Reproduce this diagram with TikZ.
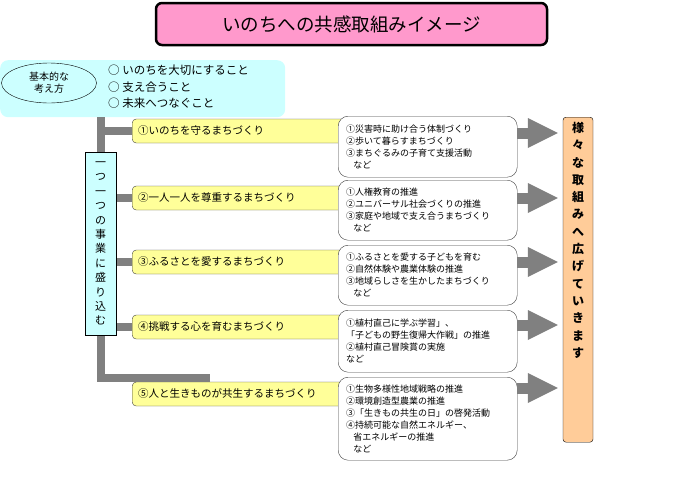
\documentclass[tikz,border=0pt]{standalone}
\usepackage{fontspec}
\setmainfont{Noto Sans CJK JP}
\usetikzlibrary{arrows.meta,shapes.geometric}
\definecolor{Pink}{RGB}{255,153,204}
\definecolor{Aqua}{RGB}{204,255,255}
\definecolor{Lemon}{RGB}{255,255,153}
\definecolor{Peach}{RGB}{255,204,153}
\definecolor{Stem}{RGB}{128,128,128}
\definecolor{Edge}{RGB}{64,64,64}

\begin{document}
\begin{tikzpicture}[x=1pt,y=-1pt,
  br/.style={draw=Stem,line width=8pt},
  ar/.style={draw=Stem,line width=11pt,-{Triangle[length=30pt,width=30pt,line width=0pt]},shorten >=5pt},
  yb/.style={draw=Edge,fill=Lemon,rounded corners=4pt,anchor=west,minimum height=24pt,text width=201pt,inner xsep=6pt,align=left,font=\fontsize{10.5}{12}\selectfont},
  wb/.style={draw=Edge,fill=white,rounded corners=10pt,anchor=north west,text width=163pt,inner xsep=8pt,align=left,font=\fontsize{9}{12}\selectfont}]
\useasboundingbox (0,0) rectangle (690,477);
% basic idea
\node[fill=Aqua,rounded corners=8pt,minimum width=285pt,minimum height=57pt,anchor=north west] (bg) at (0,60) {};
\node[ellipse,draw=black,minimum width=95pt,minimum height=40pt,inner sep=0pt,align=center,font=\fontsize{10}{12}\selectfont] (e) at (49,83) {基本的な\\考え方};
\node[anchor=west,align=left,inner sep=0pt,font=\fontsize{11.5}{16.5}\selectfont] (l) at (108,87) {○ いのちを大切にすること\\○ 支え合うこと\\○ 未来へつなぐこと};
\node[draw=black,line width=2.5pt,fill=Pink,rounded corners=6pt,minimum width=391pt,minimum height=42pt,font=\fontsize{18.5}{20}\selectfont] (t) at (351.5,24) {いのちへの共感取組みイメージ};
% five themes
\node[yb] (y1) at (132,131) {①いのちを守るまちづくり};
\node[yb] (y2) at (132,198) {②一人一人を尊重するまちづくり};
\node[yb] (y3) at (132,262) {③ふるさとを愛するまちづくり};
\node[yb] (y4) at (132,327) {④挑戦する心を育むまちづくり};
\node[yb] (y5) at (132,394) {⑤人と生きものが共生するまちづくり};
\coordinate (tt) at (bg.south -| 101,0);
\coordinate (tb) at (101,378);
\coordinate (te) at (210,378);
\draw[br] (tt) -- (tb) -- (te);
\draw[br] (y1.west -| tt) -- (y1.west);
\draw[br] (y2.west -| tt) -- (y2.west);
\draw[br] (y3.west -| tt) -- (y3.west);
\draw[br] (y4.west -| tt) -- (y4.west);
\node[draw=black,fill=Aqua,minimum width=31pt,minimum height=183pt,align=center,font=\fontsize{11}{14.4}\selectfont] (v) at (100.5,243.5) {一\\つ\\一\\つ\\の\\事\\業\\に\\盛\\り\\込\\む};
% examples
\node[wb,minimum height=61pt] (w1) at (338,116) {①災害時に助け合う体制づくり\\②歩いて暮らすまちづくり\\③まちぐるみの子育て支援活動\\\hspace*{0.8em}など};
\node[wb,minimum height=60pt] (w2) at (338,180) {①人権教育の推進\\②ユニバーサル社会づくりの推進\\③家庭や地域で支え合うまちづくり\\\hspace*{0.8em}など};
\node[wb,minimum height=60pt] (w3) at (338,245) {①ふるさとを愛する子どもを育む\\②自然体験や農業体験の推進\\③地域らしさを生かしたまちづくり\\\hspace*{0.8em}など};
\node[wb,minimum height=62pt] (w4) at (338,310) {①植村直己に学ぶ学習」、\\「子どもの野生復帰大作戦」の推進\\②植村直己冒険賞の実施\\など};
\node[wb,minimum height=83pt] (w5) at (338,377) {①生物多様性地域戦略の推進\\②環境創造型農業の推進\\③「生きもの共生の日」の啓発活動\\④持続可能な自然エネルギー、\\\hspace*{0.8em}省エネルギーの推進\\\hspace*{0.8em}など};
% spread out
\node[draw=black,fill=Peach,rounded corners=3pt,minimum width=30pt,minimum height=325pt,anchor=north] (o) at (578,117) {};
\node[anchor=north,align=center,inner sep=0pt,font=\fontsize{12}{17.3}\selectfont\bfseries] (ot) at ([yshift=-5pt]o.north) {様\\々\\な\\取\\組\\み\\へ\\広\\げ\\て\\い\\き\\ま\\す};
\draw[ar] (w1.east |- 0,133) -- (o.west |- 0,133);
\draw[ar] (w2.east |- 0,198) -- (o.west |- 0,198);
\draw[ar] (w3.east |- 0,262) -- (o.west |- 0,262);
\draw[ar] (w4.east |- 0,325) -- (o.west |- 0,325);
\draw[ar] (w5.east |- 0,388) -- (o.west |- 0,388);
\end{tikzpicture}
\end{document}
